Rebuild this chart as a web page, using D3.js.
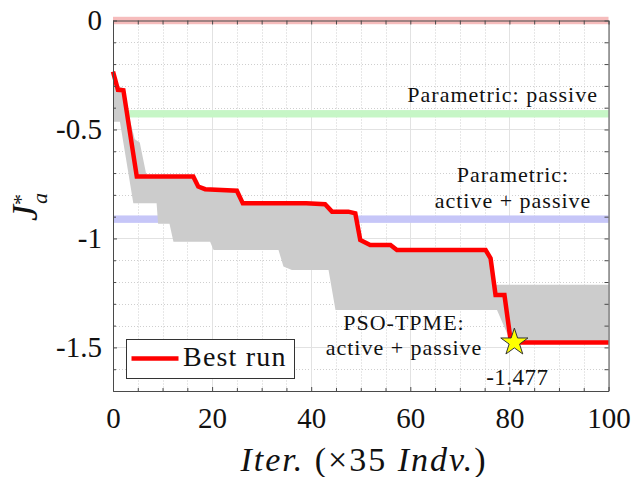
<!DOCTYPE html>
<html><head><meta charset="utf-8">
<script src="https://cdn.jsdelivr.net/npm/d3@7"></script>
<style>body{margin:0;background:#fff} svg{display:block}</style>
</head><body>
<svg id="c" width="634" height="477"></svg>
<script>
// ---------- data ----------
const xTicks = [0, 20, 40, 60, 80, 100];
const xTickLabels = ["0", "20", "40", "60", "80", "100"];
const xMinor = [5, 10, 15, 25, 30, 35, 45, 50, 55, 65, 70, 75, 85, 90, 95];
const yTicks = [0, -0.5, -1, -1.5];
const yTickLabels = ["0", "-0.5", "-1", "-1.5"];
const yMinor = [-0.1, -0.2, -0.3, -0.4, -0.6, -0.7, -0.8, -0.9, -1.1, -1.2, -1.3, -1.4, -1.6];

// reference levels (horizontal bands)
const refNames = ["zero", "Parametric: passive", "Parametric: active + passive"];
const refValues = [0, -0.428, -0.9115];

// best run (vertices)
const bestIter = [0, 1, 2.1, 4.8, 16.2, 17.2, 18.6, 25, 26.2, 39, 42.8, 44.2, 47.5, 48.9, 49.9, 51.9, 56, 57.3, 75.2, 76.2, 77.2, 79, 80.3, 100];
const bestVal  = [-0.235, -0.318, -0.32, -0.716, -0.716, -0.762, -0.774, -0.781, -0.839, -0.839, -0.843, -0.877, -0.877, -0.885, -1.007, -1.03, -1.03, -1.053, -1.053, -1.091, -1.259, -1.259, -1.477, -1.477];

// envelope of all runs (upper and lower edges)
const upIter = [0, 1, 2.1, 3, 4.4, 5.4, 6.8, 16.2, 17.2, 18.6, 25, 26.2, 39, 42.8, 44.2, 47.5, 48.9, 49.9, 51.9, 56, 57.3, 75.2, 76.2, 77.2, 100];
const upVal  = [-0.22, -0.3, -0.31, -0.42, -0.545, -0.56, -0.716, -0.716, -0.762, -0.774, -0.781, -0.839, -0.839, -0.843, -0.877, -0.877, -0.885, -1.007, -1.03, -1.03, -1.053, -1.053, -1.091, -1.213, -1.213];
const loIter = [0, 1.4, 4.1, 8.8, 9.1, 11.4, 12.2, 19.6, 20.3, 33.4, 34.4, 36.1, 43.5, 44.9, 77.5, 80.3, 100];
const loVal  = [-0.464, -0.464, -0.838, -0.838, -0.933, -0.933, -1.015, -1.015, -1.053, -1.053, -1.129, -1.145, -1.145, -1.328, -1.328, -1.477, -1.477];

const starIter = 81, starVal = -1.477, starLabel = "-1.477";
const legendLabel = "Best run";

// ---------- drawing ----------
const svg = d3.select("#c");
const W = 634, H = 477;
const L = 113, R = 608.5, T = 20.5, B = 391;
const x = d3.scaleLinear().domain([0, 100]).range([L, R]);
const y = d3.scaleLinear().domain([-1.7, 0]).range([B, T]);
const serif = "'Liberation Serif', serif";

svg.append("rect").attr("width", W).attr("height", H).attr("fill", "#fff");

const grid = svg.append("g");
grid.selectAll(".mx").data(xMinor).join("line")
  .attr("x1", d => Math.round(x(d)) + 0.5).attr("x2", d => Math.round(x(d)) + 0.5)
  .attr("y1", T).attr("y2", B)
  .attr("stroke", "#cfcfcf").attr("stroke-width", 1).attr("stroke-dasharray", "1,2");
grid.selectAll(".my").data(yMinor).join("line")
  .attr("y1", d => Math.round(y(d)) + 0.5).attr("y2", d => Math.round(y(d)) + 0.5)
  .attr("x1", L).attr("x2", R)
  .attr("stroke", "#cfcfcf").attr("stroke-width", 1).attr("stroke-dasharray", "1,2");
grid.selectAll(".Mx").data(xTicks).join("line")
  .attr("x1", d => Math.round(x(d)) + 0.5).attr("x2", d => Math.round(x(d)) + 0.5)
  .attr("y1", T).attr("y2", B)
  .attr("stroke", "#e2e2e2").attr("stroke-width", 1);
grid.selectAll(".My").data(yTicks).join("line")
  .attr("y1", d => Math.round(y(d)) + 0.5).attr("y2", d => Math.round(y(d)) + 0.5)
  .attr("x1", L).attr("x2", R)
  .attr("stroke", "#e2e2e2").attr("stroke-width", 1);

// reference bands
const refColors = ["#f6bcbc", "#c6f6c6", "#c6c6f8"];
const halfBand = 0.017;
svg.selectAll(".ref").data(refValues).join("rect")
  .attr("x", x(0)).attr("width", x(100) - x(0))
  .attr("y", d => y(d + halfBand)).attr("height", d => y(d - halfBand) - y(d + halfBand))
  .attr("fill", (d, i) => refColors[i]);

// gray envelope
const upPts = upIter.map((t, i) => [t, upVal[i]]);
const loPts = loIter.map((t, i) => [t, loVal[i]]).reverse();
const line = d3.line().x(d => x(d[0])).y(d => y(d[1]));
svg.append("path").attr("d", line(upPts.concat(loPts)) + "Z")
  .attr("fill", "#cccccc").attr("stroke", "none");

// best run
const bestPts = bestIter.map((t, i) => [t, bestVal[i]]);
svg.append("path").attr("d", line(bestPts))
  .attr("fill", "none").attr("stroke", "#ff0000").attr("stroke-width", 4.5)
  .attr("stroke-linejoin", "miter");

// axes
const axisColor = "#4a4a4a";
function styleAxis(g) {
  g.attr("font-family", serif);
  g.select(".domain").attr("stroke", axisColor).attr("stroke-width", 1);
  g.selectAll(".tick line").attr("stroke", axisColor).attr("stroke-width", 1);
  g.selectAll("text").attr("font-family", serif).attr("font-size", 29).attr("fill", "#111");
}
const gx = svg.append("g").attr("transform", `translate(0,${B})`)
  .call(d3.axisBottom(x).tickValues(xTicks).tickFormat((d, i) => xTickLabels[i]).tickSizeInner(-4).tickSizeOuter(0).tickPadding(16));
styleAxis(gx);
const gxm = svg.append("g").attr("transform", `translate(0,${B})`)
  .call(d3.axisBottom(x).tickValues(xMinor).tickFormat("").tickSizeInner(-3).tickSizeOuter(0));
styleAxis(gxm);
const gxt = svg.append("g").attr("transform", `translate(0,${T})`)
  .call(d3.axisTop(x).tickValues(xTicks.concat(xMinor)).tickFormat("").tickSizeInner(-4).tickSizeOuter(0));
styleAxis(gxt);
const gy = svg.append("g").attr("transform", `translate(${L},0)`)
  .call(d3.axisLeft(y).tickValues(yTicks).tickFormat((d, i) => yTickLabels[i]).tickSizeInner(-4).tickSizeOuter(0).tickPadding(11));
styleAxis(gy);
const gym = svg.append("g").attr("transform", `translate(${L},0)`)
  .call(d3.axisLeft(y).tickValues(yMinor).tickFormat("").tickSizeInner(-3).tickSizeOuter(0));
styleAxis(gym);
const gyr = svg.append("g").attr("transform", `translate(${R},0)`)
  .call(d3.axisRight(y).tickValues(yTicks.concat(yMinor)).tickFormat("").tickSizeInner(-4).tickSizeOuter(0));
styleAxis(gyr);

// star marker
svg.append("path")
  .attr("d", d3.symbol(d3.symbolStar).size(230)())
  .attr("transform", `translate(${x(starIter)},${y(starVal)})`)
  .attr("fill", "#ffff00").attr("stroke", "#333").attr("stroke-width", 1);
svg.append("text").attr("x", x(starIter) + 3).attr("y", 385)
  .attr("text-anchor", "middle").attr("font-family", serif).attr("font-size", 23)
  .attr("letter-spacing", "0.5px").attr("fill", "#111").text(starLabel);

// annotations
const ann = svg.append("g").attr("font-family", serif).attr("font-size", 22)
  .attr("fill", "#111").attr("letter-spacing", "1px");
ann.append("text").attr("x", 598).attr("y", 102).attr("text-anchor", "end").text("Parametric: passive");
ann.append("text").attr("x", 513).attr("y", 182).attr("text-anchor", "middle").text("Parametric:");
ann.append("text").attr("x", 513).attr("y", 208).attr("text-anchor", "middle").text("active + passive");
ann.append("text").attr("x", 404).attr("y", 330).attr("text-anchor", "middle").text("PSO-TPME:");
ann.append("text").attr("x", 404).attr("y", 355).attr("text-anchor", "middle").text("active + passive");

// legend
const lg = svg.append("g");
lg.append("rect").attr("x", 126.5).attr("y", 339.5).attr("width", 168).attr("height", 39)
  .attr("fill", "#fff").attr("stroke", "#333").attr("stroke-width", 1);
lg.append("line").attr("x1", 131.5).attr("x2", 178.5).attr("y1", 358.5).attr("y2", 358.5)
  .attr("stroke", "#ff0000").attr("stroke-width", 4.5);
lg.append("text").attr("x", 183).attr("y", 366).attr("font-family", serif).attr("font-size", 28)
  .attr("letter-spacing", "1.2px").attr("fill", "#111").text(legendLabel);

// axis labels
const xl = svg.append("text").attr("x", 364).attr("y", 471).attr("text-anchor", "middle")
  .attr("font-family", serif).attr("font-size", 34).attr("fill", "#111").attr("letter-spacing", "2px");
xl.append("tspan").attr("font-style", "italic").text("Iter.");
xl.append("tspan").text(" (×35 ");
xl.append("tspan").attr("font-style", "italic").text("Indv.");
xl.append("tspan").text(")");

const yl = svg.append("text").attr("transform", "translate(37,207) rotate(-90)")
  .attr("text-anchor", "middle").attr("font-family", serif).attr("fill", "#111");
yl.append("tspan").attr("font-style", "italic").attr("font-size", 36).text("J");
yl.append("tspan").attr("font-size", 22).attr("dy", -9).text("*");
yl.append("tspan").attr("font-style", "italic").attr("font-size", 22).attr("dx", -10).attr("dy", 19).text("a");
</script>
</body></html>
